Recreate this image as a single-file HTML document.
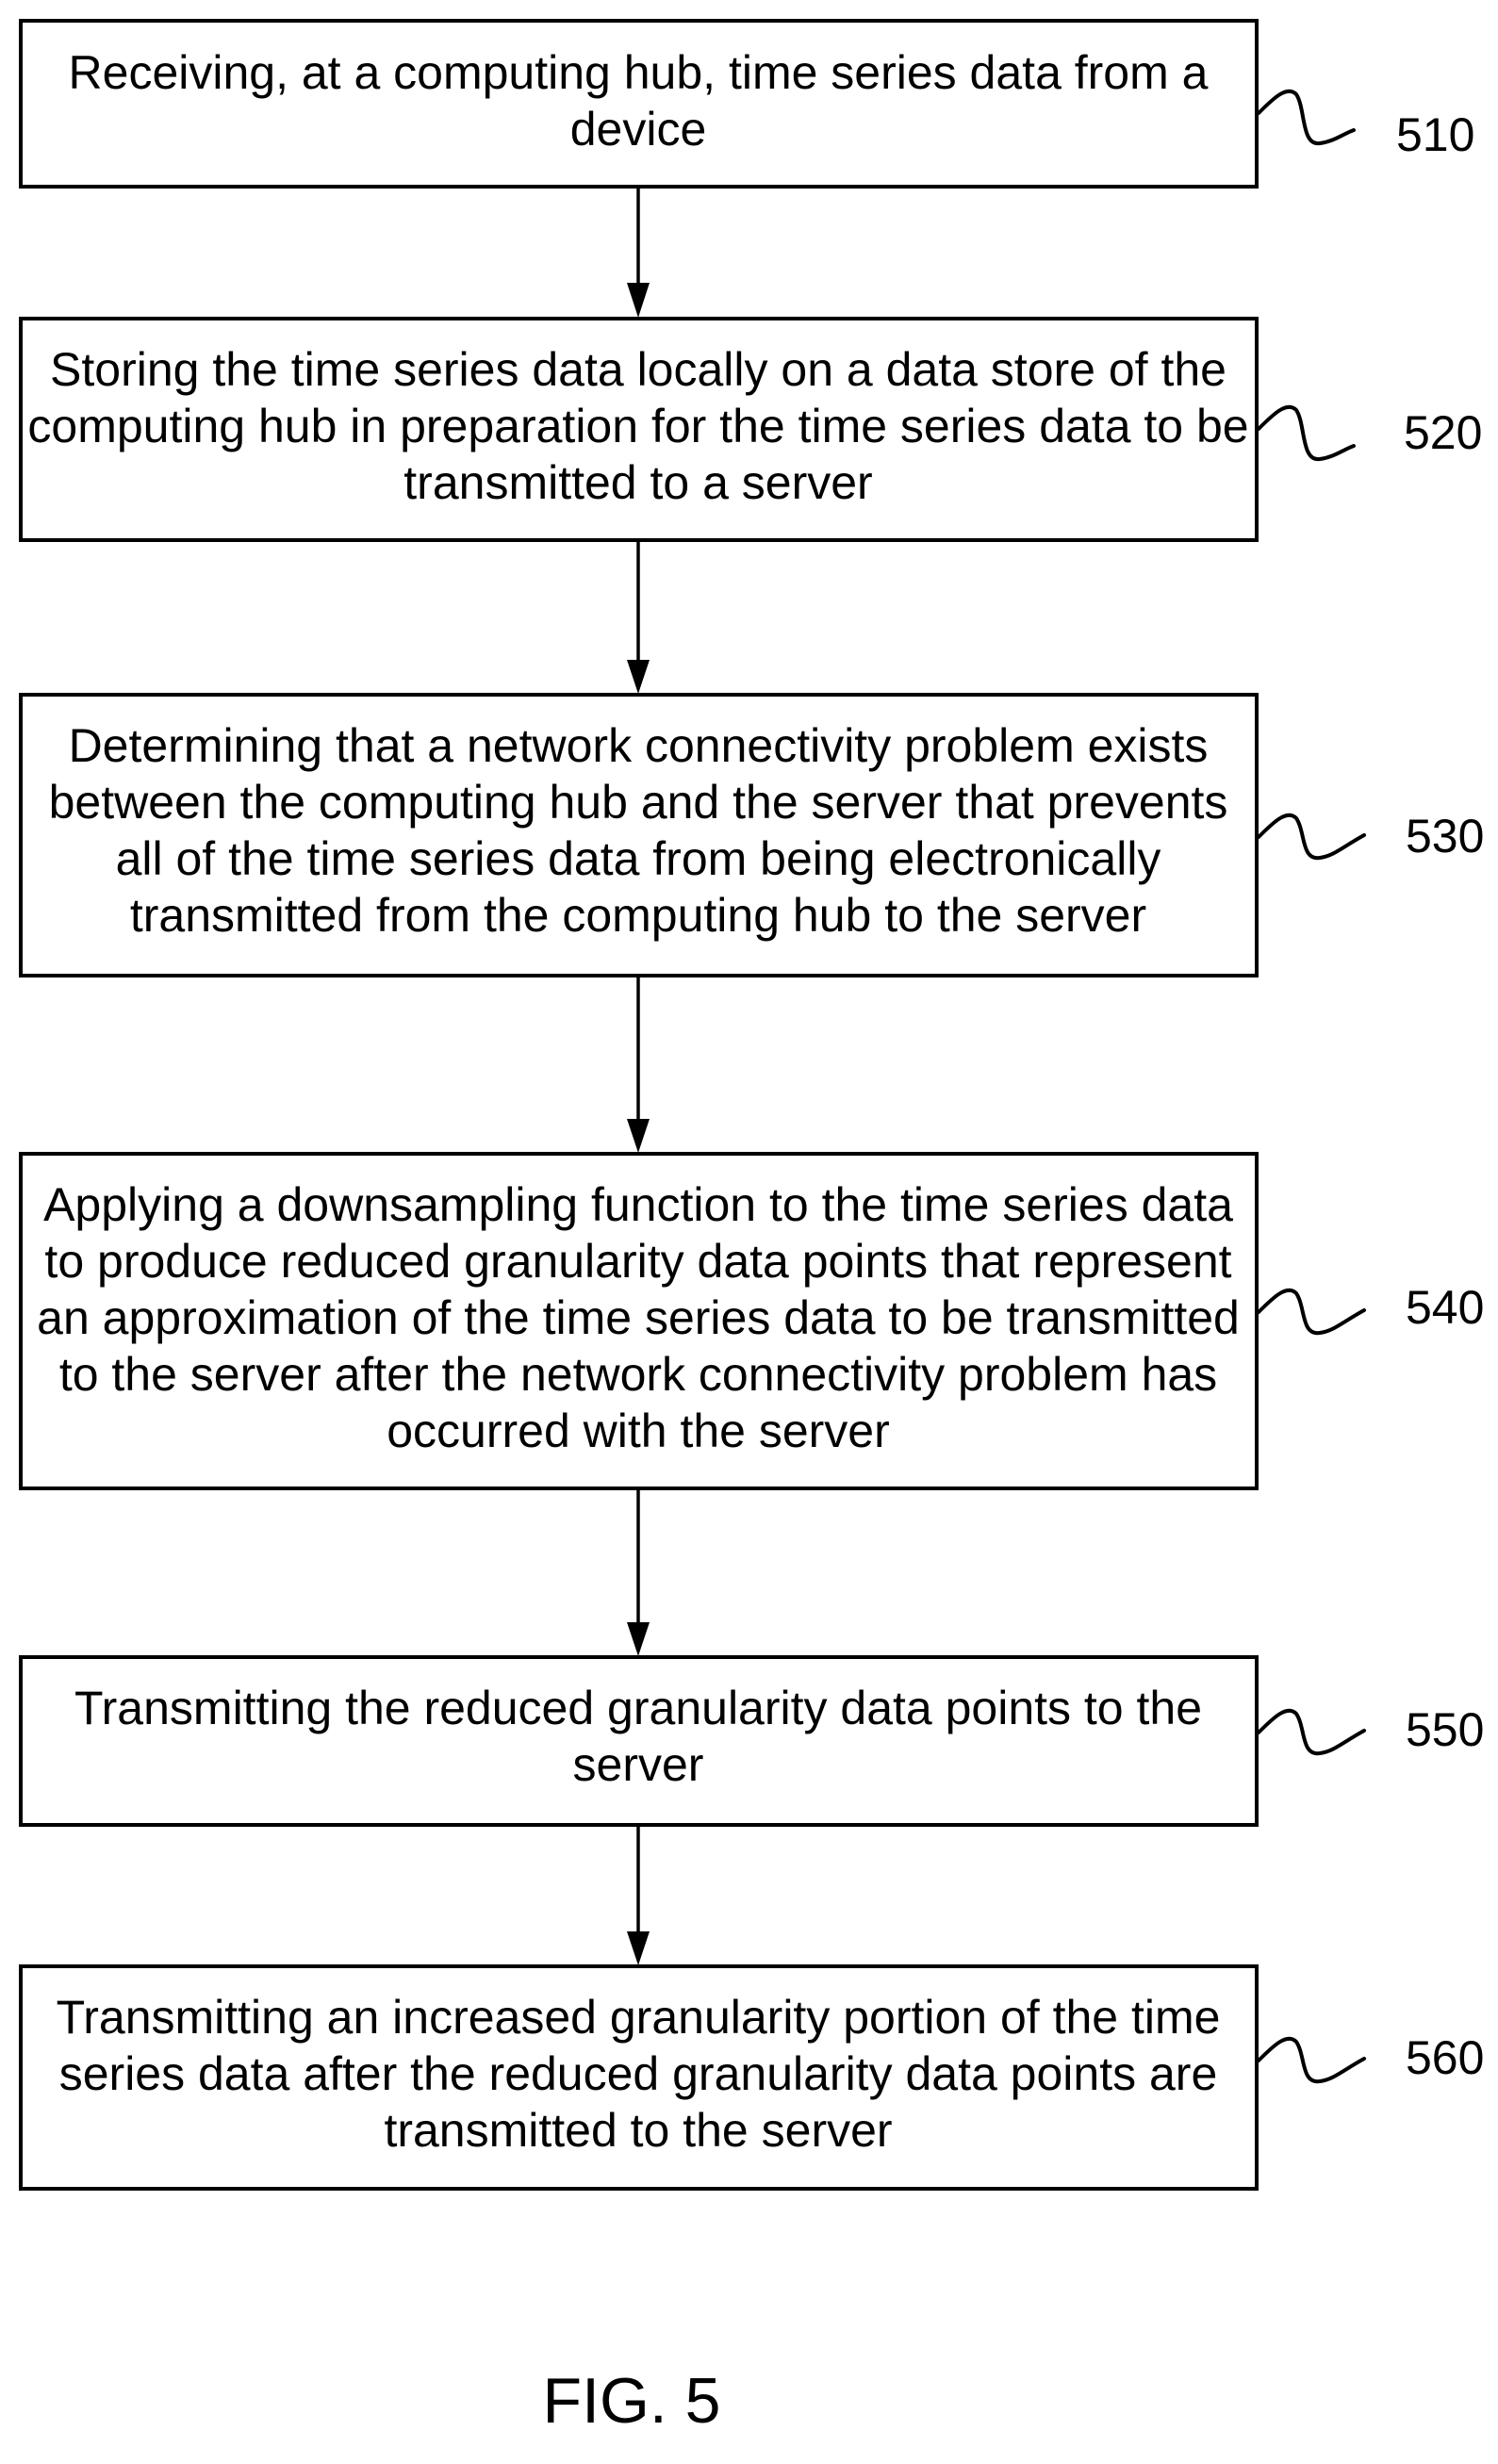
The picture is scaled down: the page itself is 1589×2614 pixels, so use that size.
<!DOCTYPE html>
<html><head><meta charset="utf-8"><style>
html,body{margin:0;padding:0;background:#fff;}
svg{display:block;}
text{font-family:"Liberation Sans","Arimo",Arial,sans-serif;fill:#000;}
</style></head><body>
<svg width="1589" height="2614" viewBox="0 0 1589 2614" xmlns="http://www.w3.org/2000/svg">
<g fill="none" stroke="#000" stroke-width="4">
<rect x="22" y="22" width="1311" height="176"/>
<rect x="22" y="338" width="1311" height="235"/>
<rect x="22" y="737" width="1311" height="298"/>
<rect x="22" y="1224" width="1311" height="355"/>
<rect x="22" y="1758" width="1311" height="178"/>
<rect x="22" y="2086" width="1311" height="236"/>
</g>
<g stroke="#000" stroke-width="3.5">
<line x1="677" y1="198" x2="677" y2="300"/>
<line x1="677" y1="573" x2="677" y2="700"/>
<line x1="677" y1="1035" x2="677" y2="1187"/>
<line x1="677" y1="1579" x2="677" y2="1721"/>
<line x1="677" y1="1936" x2="677" y2="2049"/>
</g>
<g fill="#000">
<polygon points="665,300 689,300 677,337"/>
<polygon points="665,700 689,700 677,736"/>
<polygon points="665,1187 689,1187 677,1223"/>
<polygon points="665,1721 689,1721 677,1757"/>
<polygon points="665,2049 689,2049 677,2085"/>
</g>
<g fill="none" stroke="#000" stroke-width="4" stroke-linecap="round">
<path d="M1335,120 C1350,105 1365,90 1375,100 C1385,115 1380,155 1400,152 C1415,150 1425,142 1436,138"/>
<path d="M1335,455 C1350,440 1365,425 1375,435 C1385,450 1380,490 1400,487 C1415,485 1425,477 1436,473"/>
<path d="M1335,888 C1350,873 1365,858 1375,868 C1385,883 1380,913 1400,910 C1415,908 1425,898 1447,886"/>
<path d="M1335,1392 C1350,1377 1365,1362 1375,1372 C1385,1387 1380,1417 1400,1414 C1415,1412 1425,1402 1447,1390"/>
<path d="M1335,1838 C1350,1823 1365,1808 1375,1818 C1385,1833 1380,1863 1400,1860 C1415,1858 1425,1848 1447,1836"/>
<path d="M1335,2186 C1350,2171 1365,2156 1375,2166 C1385,2181 1380,2211 1400,2208 C1415,2206 1425,2196 1447,2184"/>
</g>
<g font-size="50">
<text x="1481" y="160">510</text>
<text x="1489" y="476">520</text>
<text x="1491" y="904">530</text>
<text x="1491" y="1404">540</text>
<text x="1491" y="1852">550</text>
<text x="1491" y="2200">560</text>
</g>
<g font-size="50" text-anchor="middle">
<text x="677" y="94">Receiving, at a computing hub, time series data from a</text>
<text x="677" y="154">device</text>
<text x="677" y="409">Storing the time series data locally on a data store of the</text>
<text x="677" y="469">computing hub in preparation for the time series data to be</text>
<text x="677" y="529">transmitted to a server</text>
<text x="677" y="808">Determining that a network connectivity problem exists</text>
<text x="677" y="868">between the computing hub and the server that prevents</text>
<text x="677" y="928">all of the time series data from being electronically</text>
<text x="677" y="988">transmitted from the computing hub to the server</text>
<text x="677" y="1295">Applying a downsampling function to the time series data</text>
<text x="677" y="1355">to produce reduced granularity data points that represent</text>
<text x="677" y="1415">an approximation of the time series data to be transmitted</text>
<text x="677" y="1475">to the server after the network connectivity problem has</text>
<text x="677" y="1535">occurred with the server</text>
<text x="677" y="1829">Transmitting the reduced granularity data points to the</text>
<text x="677" y="1889">server</text>
<text x="677" y="2157">Transmitting an increased granularity portion of the time</text>
<text x="677" y="2217">series data after the reduced granularity data points are</text>
<text x="677" y="2277">transmitted to the server</text>
</g>
<text x="670" y="2570" font-size="68" text-anchor="middle">FIG. 5</text>
</svg>
</body></html>
